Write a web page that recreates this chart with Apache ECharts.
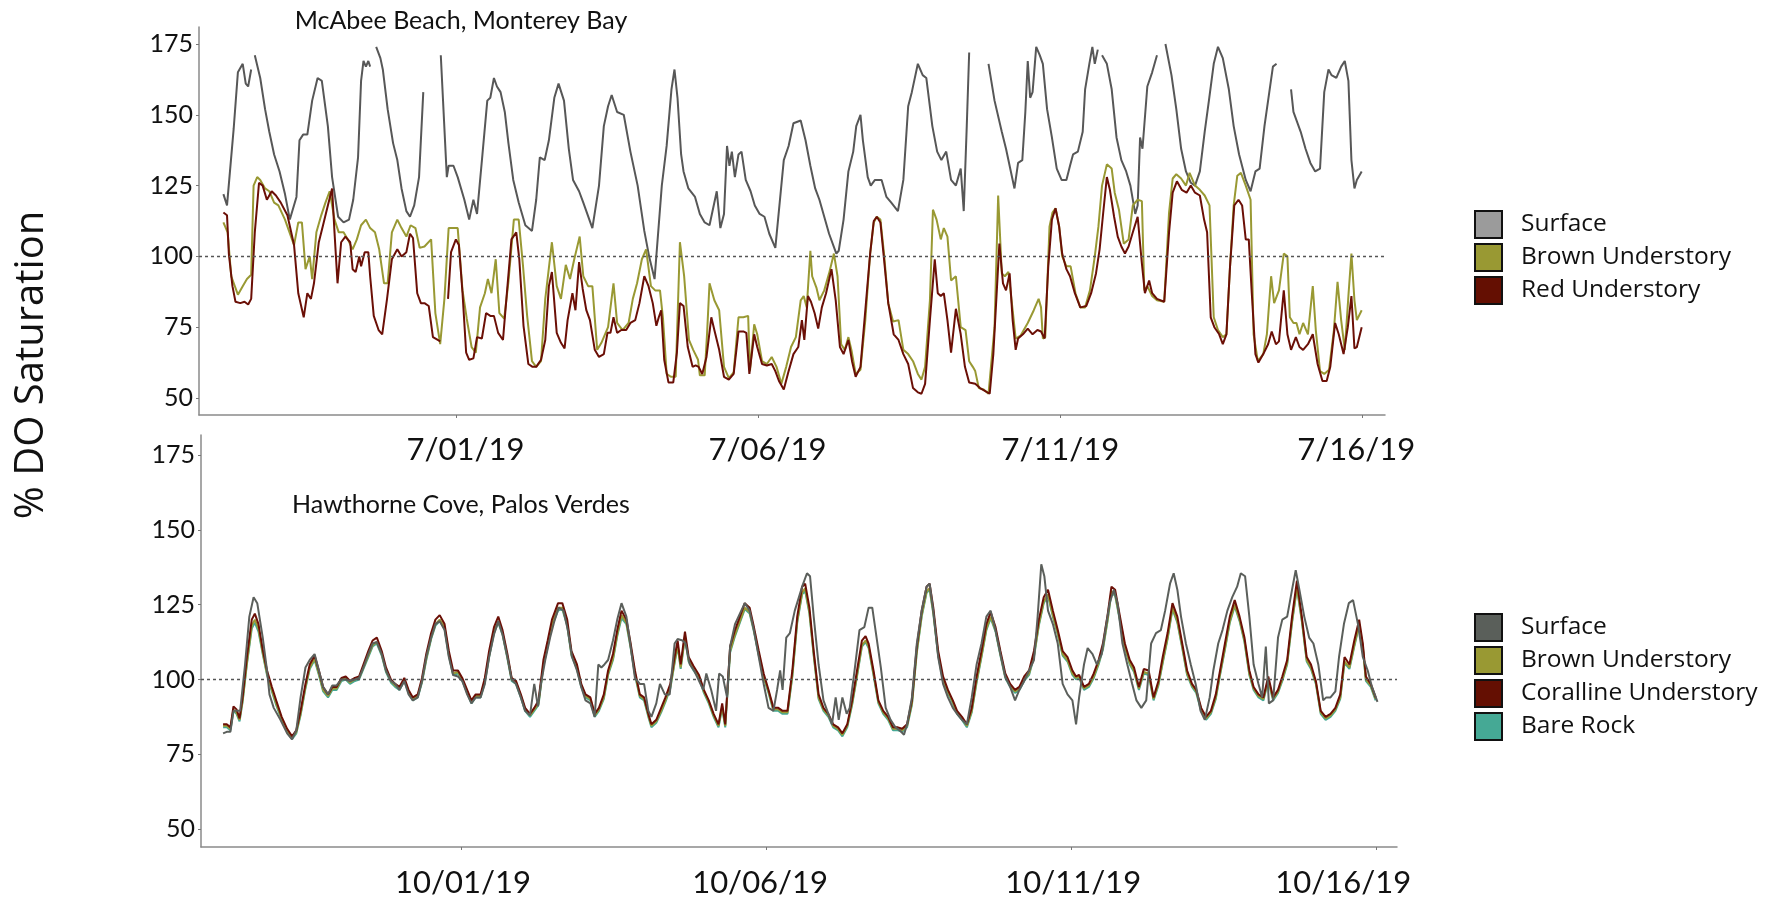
<!DOCTYPE html>
<html><head><meta charset="utf-8">
<script src="https://cdn.jsdelivr.net/npm/echarts@6/dist/echarts.min.js"></script>
<style>html,body{margin:0;padding:0;background:#fff}#c{width:1776px;height:899px}</style>
</head><body><div id="c"></div>
<script>
// ---------- DATA (x = days since 7/01/19 for top, days since 10/01/19 for bottom) ----------
const topTickDays = [0, 5, 10, 15];
const topTickLabels = ['7/01/19', '7/06/19', '7/11/19', '7/16/19'];
const bottomTickDays = [0, 5, 10, 15];
const bottomTickLabels = ['10/01/19', '10/06/19', '10/11/19', '10/16/19'];
const yTickValues = [50, 75, 100, 125, 150, 175];

const topSurface = [[-3.86,122],[-3.80,118],[-3.69,145],[-3.62,165],[-3.54,168],[-3.49,161],[-3.45,160],[-3.40,166],[-3.37,null],[-3.34,171],[-3.25,163],[-3.17,152],[-3.10,144],[-3.02,136],[-2.93,130],[-2.84,122],[-2.76,113],[-2.65,121],[-2.60,141],[-2.54,143],[-2.47,143],[-2.39,155],[-2.30,163],[-2.23,162],[-2.13,146],[-2.06,128],[-1.96,114],[-1.87,112],[-1.78,113],[-1.71,120],[-1.63,135],[-1.58,162],[-1.54,169],[-1.50,167],[-1.46,169],[-1.43,167],[-1.38,null],[-1.33,174],[-1.26,170],[-1.22,166],[-1.14,152],[-1.05,140],[-0.98,134],[-0.91,124],[-0.83,116],[-0.77,114],[-0.70,118],[-0.62,128],[-0.55,158],[-0.40,null],[-0.26,171],[-0.16,128],[-0.13,132],[-0.05,132],[0.02,128],[0.13,120],[0.21,113],[0.28,120],[0.34,115],[0.43,136],[0.51,155],[0.56,156],[0.62,163],[0.67,160],[0.73,158],[0.80,151],[0.86,140],[0.94,127],[1.03,119],[1.14,111],[1.25,109],[1.32,120],[1.38,135],[1.46,134],[1.53,141],[1.62,156],[1.69,161],[1.78,155],[1.86,138],[1.93,127],[2.03,123],[2.10,119],[2.25,110],[2.36,125],[2.44,146],[2.51,153],[2.57,157],[2.66,151],[2.77,150],[2.88,137],[3.00,125],[3.11,109],[3.19,100],[3.28,92],[3.40,125],[3.48,139],[3.56,159],[3.61,166],[3.66,156],[3.72,136],[3.76,130],[3.84,124],[3.95,121],[4.03,115],[4.11,112],[4.19,111],[4.31,123],[4.37,110],[4.43,115],[4.48,139],[4.52,132],[4.56,137],[4.61,128],[4.67,136],[4.72,137],[4.79,127],[4.87,123],[4.94,118],[5.02,115],[5.10,114],[5.18,108],[5.28,103],[5.42,134],[5.50,139],[5.58,147],[5.70,148],[5.78,141],[5.86,132],[5.94,124],[6.01,120],[6.09,114],[6.17,108],[6.29,101],[6.33,102],[6.41,113],[6.49,130],[6.57,137],[6.62,146],[6.69,150],[6.73,141],[6.81,128],[6.86,125],[6.93,127],[7.04,127],[7.12,121],[7.20,119],[7.31,116],[7.40,127],[7.48,153],[7.54,158],[7.64,168],[7.72,164],[7.78,163],[7.88,146],[7.96,137],[8.03,134],[8.11,137],[8.19,127],[8.27,125],[8.35,131],[8.40,116],[8.45,146],[8.49,172],[8.65,null],[8.81,168],[8.91,155],[9.03,144],[9.10,138],[9.18,130],[9.24,124],[9.30,133],[9.37,134],[9.42,151],[9.46,169],[9.50,156],[9.54,158],[9.60,174],[9.66,171],[9.71,168],[9.78,152],[9.86,142],[9.94,131],[10.02,127],[10.10,127],[10.16,132],[10.21,136],[10.29,137],[10.37,144],[10.41,159],[10.48,168],[10.53,174],[10.57,168],[10.62,173],[10.65,null],[10.69,171],[10.77,168],[10.85,159],[10.93,142],[11.01,134],[11.09,130],[11.16,125],[11.24,115],[11.28,118],[11.32,142],[11.36,138],[11.44,160],[11.52,165],[11.60,171],[11.67,null],[11.74,175],[11.84,164],[11.92,152],[12.00,138],[12.08,130],[12.16,126],[12.23,125],[12.31,130],[12.39,144],[12.46,155],[12.54,168],[12.61,174],[12.69,170],[12.79,159],[12.87,146],[12.96,136],[13.07,127],[13.15,123],[13.23,130],[13.30,131],[13.38,146],[13.46,158],[13.52,167],[13.58,168],[13.70,null],[13.82,159],[13.86,151],[13.98,144],[14.06,138],[14.14,133],[14.22,130],[14.30,131],[14.37,158],[14.44,166],[14.49,164],[14.57,163],[14.65,167],[14.71,169],[14.77,162],[14.82,134],[14.87,124],[14.91,127],[14.99,130]];

const topBrown = [[-3.86,112],[-3.79,108.5],[-3.73,93],[-3.62,86.5],[-3.54,89.5],[-3.47,92],[-3.40,93.5],[-3.36,125],[-3.30,128],[-3.25,127],[-3.17,124],[-3.10,123],[-3.02,119],[-2.95,118],[-2.84,113],[-2.69,104],[-2.62,112],[-2.56,112],[-2.50,95.5],[-2.43,100],[-2.39,92],[-2.32,108.5],[-2.24,114.5],[-2.17,119],[-2.10,123],[-2.02,113],[-1.95,108.5],[-1.87,108.5],[-1.80,106],[-1.72,102.5],[-1.65,106],[-1.58,111],[-1.50,113],[-1.43,110],[-1.35,108.5],[-1.28,102.5],[-1.20,90.5],[-1.14,90.5],[-1.07,108.5],[-0.98,113],[-0.91,110],[-0.83,107],[-0.76,111],[-0.68,110],[-0.61,103],[-0.53,103.5],[-0.42,106],[-0.35,80],[-0.27,69],[-0.20,85],[-0.13,110],[-0.05,110],[0.02,110],[0.10,88],[0.17,78],[0.25,68],[0.32,66],[0.39,82],[0.47,87],[0.52,92],[0.58,87],[0.65,99],[0.71,80],[0.79,78],[0.86,91],[0.95,113],[1.03,113],[1.10,97],[1.17,79],[1.25,63],[1.32,61],[1.40,63],[1.47,85],[1.58,105],[1.66,89.5],[1.73,85],[1.81,97],[1.88,92],[1.95,99],[2.04,107],[2.10,93],[2.18,89.5],[2.25,89.5],[2.33,67],[2.40,69.5],[2.51,75],[2.60,90.5],[2.66,76.5],[2.75,74],[2.85,76.5],[2.92,85],[2.99,90.5],[3.07,99],[3.14,102.5],[3.22,89.5],[3.29,88],[3.37,88],[3.42,78],[3.48,58.5],[3.55,57.5],[3.63,57.5],[3.70,105],[3.77,93],[3.85,70.5],[3.92,67],[4.00,63.5],[4.03,58],[4.11,58],[4.15,73],[4.19,90.5],[4.27,84.5],[4.35,81],[4.43,61],[4.51,57],[4.59,59],[4.67,78.5],[4.75,78.5],[4.83,79],[4.86,59.5],[4.93,76],[4.98,72.5],[5.06,63],[5.14,62],[5.22,64.5],[5.30,61],[5.38,55],[5.46,61],[5.54,68],[5.62,71.5],[5.70,84.5],[5.75,86],[5.80,82],[5.86,102],[5.89,93],[5.96,89],[6.01,84.5],[6.09,88],[6.17,94],[6.25,101],[6.31,93],[6.37,69],[6.43,67],[6.49,71.5],[6.54,67],[6.61,58.5],[6.69,60],[6.77,77.5],[6.85,101],[6.91,112],[6.96,114],[7.02,113],[7.08,101],[7.15,83.5],[7.23,77],[7.32,77.5],[7.40,67],[7.48,65.5],[7.56,63],[7.64,58.5],[7.70,56.5],[7.76,61],[7.84,84.5],[7.89,116.5],[7.95,113],[8.02,106],[8.07,110],[8.13,107],[8.19,91.5],[8.27,93],[8.35,75],[8.43,74],[8.49,63],[8.55,61],[8.59,59.5],[8.65,53.5],[8.73,53],[8.81,51.5],[8.84,52],[8.91,75],[8.97,121.5],[9.03,94],[9.08,93],[9.14,94.5],[9.21,81],[9.26,71],[9.34,72],[9.46,76.5],[9.56,81],[9.64,85],[9.68,82],[9.71,71],[9.75,71.5],[9.82,110.5],[9.87,115.5],[9.92,117],[9.98,110.5],[10.03,100],[10.10,96.5],[10.17,96.5],[10.25,87],[10.33,82],[10.41,82],[10.49,88],[10.57,100],[10.63,110.5],[10.69,125],[10.77,132.5],[10.85,131],[10.90,122.5],[10.97,116.5],[11.05,104.5],[11.13,106],[11.20,118],[11.28,120],[11.35,119.5],[11.39,88],[11.44,89.5],[11.52,86],[11.60,84.5],[11.72,84],[11.80,115.5],[11.86,127.5],[11.92,129],[12.00,127.5],[12.08,125],[12.14,129.5],[12.23,125],[12.31,123.5],[12.39,121.5],[12.47,118],[12.54,78.5],[12.61,74],[12.69,71.5],[12.75,72.5],[12.81,96.5],[12.87,118],[12.93,128.5],[12.99,129.5],[13.07,125],[13.15,120],[13.20,72.5],[13.27,63],[13.36,65.5],[13.42,72.5],[13.49,93],[13.54,83.5],[13.62,88],[13.70,101],[13.76,100],[13.80,78.5],[13.86,76.5],[13.91,76.5],[13.96,72.5],[14.02,76.5],[14.10,72.5],[14.18,89.5],[14.23,74],[14.30,59.5],[14.37,58.5],[14.45,60],[14.53,74],[14.59,91],[14.65,77.5],[14.71,67],[14.77,86],[14.82,101],[14.87,84.5],[14.91,77.5],[14.99,81]];

const topRed = [[-3.86,115.5],[-3.80,114.5],[-3.77,101],[-3.71,89.5],[-3.66,84],[-3.58,83.5],[-3.51,84],[-3.45,83],[-3.40,85],[-3.34,108.5],[-3.27,126],[-3.21,125],[-3.14,120],[-3.06,123],[-2.99,121.5],[-2.91,119],[-2.80,114.5],[-2.69,104],[-2.62,87],[-2.53,78.5],[-2.47,87],[-2.41,85],[-2.36,90.5],[-2.28,105],[-2.21,111],[-2.13,118],[-2.06,124],[-2.02,108.5],[-1.97,90.5],[-1.91,105],[-1.84,107],[-1.76,105],[-1.72,95.5],[-1.67,94.5],[-1.61,100],[-1.58,96.5],[-1.52,101.5],[-1.46,101.5],[-1.43,93],[-1.37,79],[-1.29,74],[-1.23,72.5],[-1.15,85],[-1.07,99],[-0.98,102.5],[-0.91,100],[-0.83,101.5],[-0.77,108],[-0.72,106.5],[-0.65,87],[-0.59,83.5],[-0.53,83.5],[-0.46,82.5],[-0.39,71.5],[-0.31,70.5],[-0.27,70],[-0.20,null],[-0.14,85],[-0.09,101.5],[-0.01,106],[0.04,104],[0.10,87],[0.16,66],[0.21,63.5],[0.28,64],[0.34,71.5],[0.42,71],[0.49,80],[0.56,79],[0.62,79],[0.69,73],[0.77,70.5],[0.84,88.5],[0.91,106],[0.99,108.5],[1.04,99],[1.11,75.5],[1.19,62],[1.26,61],[1.32,61],[1.40,63.5],[1.47,70.5],[1.53,89.5],[1.58,94.5],[1.66,73],[1.73,69.5],[1.79,67.5],[1.84,77.5],[1.92,87],[1.97,81],[2.03,98],[2.09,88.5],[2.15,81],[2.21,77.5],[2.29,67],[2.36,64.5],[2.44,65.5],[2.50,73],[2.55,73],[2.60,78.5],[2.66,73],[2.73,74],[2.81,74],[2.88,76.5],[2.96,77.5],[3.03,83.5],[3.11,93],[3.18,89.5],[3.25,83.5],[3.31,75.5],[3.35,78.5],[3.39,81],[3.44,63.5],[3.51,55.5],[3.59,55.5],[3.65,66],[3.70,83.5],[3.76,82.5],[3.83,68],[3.91,61],[3.96,61.5],[4.01,61],[4.07,58.5],[4.14,64.5],[4.22,78.5],[4.27,74],[4.35,67],[4.43,57.5],[4.51,56.5],[4.59,58.5],[4.67,73.5],[4.75,73.5],[4.80,73],[4.85,58.5],[4.93,72.5],[4.98,68],[5.06,62],[5.14,61.5],[5.22,62],[5.28,59.5],[5.34,56],[5.42,53],[5.50,59.5],[5.58,65.5],[5.66,68],[5.72,77.5],[5.76,70.5],[5.82,86],[5.87,84],[5.93,80],[5.99,74.5],[6.05,82],[6.12,87],[6.21,95.5],[6.28,84.5],[6.35,68],[6.41,65.5],[6.49,70.5],[6.55,63],[6.61,57.5],[6.69,61],[6.77,81],[6.85,101],[6.91,112.5],[6.96,114],[7.02,112],[7.08,99],[7.15,83.5],[7.24,72.5],[7.32,70.5],[7.40,65.5],[7.48,62],[7.56,53.5],[7.64,52],[7.70,51.5],[7.76,55],[7.84,77.5],[7.92,99],[7.97,87],[8.02,86],[8.07,87],[8.13,77.5],[8.19,66],[8.27,81.5],[8.35,72.5],[8.42,61],[8.49,55.5],[8.59,55],[8.67,53.5],[8.75,52.5],[8.83,51.5],[8.89,65.5],[8.99,104.5],[9.05,90.5],[9.10,88],[9.16,94],[9.21,77.5],[9.26,67],[9.30,71],[9.38,72.5],[9.46,74.5],[9.54,72.5],[9.62,74],[9.68,73.5],[9.74,71],[9.80,96.5],[9.86,113],[9.92,117],[9.98,110.5],[10.03,101],[10.10,95.5],[10.16,93],[10.24,87],[10.33,82],[10.43,82.5],[10.51,87],[10.59,94],[10.65,102.5],[10.71,115.5],[10.77,128],[10.82,123.5],[10.89,114],[10.95,107],[11.01,103.5],[11.07,101],[11.13,103.5],[11.20,108.5],[11.28,114],[11.35,97.5],[11.40,87],[11.47,91.5],[11.52,87],[11.60,85],[11.72,84],[11.80,108.5],[11.86,122.5],[11.93,126.5],[12.01,123.5],[12.09,122.5],[12.16,125],[12.23,122.5],[12.31,121.5],[12.38,113],[12.43,108.5],[12.49,78.5],[12.55,75],[12.63,72.5],[12.69,69],[12.75,72.5],[12.81,96.5],[12.88,118],[12.95,120],[13.01,118],[13.07,106],[13.12,106],[13.17,87],[13.23,65.5],[13.28,62.5],[13.36,65.5],[13.44,69],[13.50,73.5],[13.57,69],[13.62,70],[13.70,88],[13.76,72.5],[13.82,67],[13.90,71.5],[13.96,68],[14.02,67],[14.10,69],[14.18,72.5],[14.26,62],[14.34,56],[14.41,56],[14.47,61],[14.55,76.5],[14.61,72.5],[14.69,65.5],[14.76,75],[14.82,86],[14.87,67.5],[14.91,68],[14.99,75]];

const bottomSurface = [[-3.90,82],[-3.84,82.5],[-3.78,82.5],[-3.73,89.5],[-3.62,89.5],[-3.54,105],[-3.47,121],[-3.40,127.5],[-3.34,125.5],[-3.25,114],[-3.18,103],[-3.14,95],[-3.07,90.5],[-2.96,86.5],[-2.85,82],[-2.77,80],[-2.70,83],[-2.63,94],[-2.55,104],[-2.48,106.5],[-2.40,108.5],[-2.33,103],[-2.26,97.5],[-2.18,95],[-2.11,98],[-2.04,98],[-1.96,100],[-1.89,100],[-1.82,99.5],[-1.74,100],[-1.67,100.5],[-1.60,104],[-1.52,108.5],[-1.45,112],[-1.38,112.5],[-1.30,108.5],[-1.23,103],[-1.15,99.5],[-1.08,98.5],[-1.01,96.5],[-0.93,99.5],[-0.86,95],[-0.79,93],[-0.71,94],[-0.64,99.5],[-0.57,107.5],[-0.49,114],[-0.42,118.5],[-0.35,119.5],[-0.27,116.5],[-0.20,107.5],[-0.13,101.5],[-0.05,101],[0.02,99.5],[0.10,95],[0.17,92],[0.24,94],[0.32,94],[0.39,98.5],[0.46,107.5],[0.54,115],[0.61,119.5],[0.68,115],[0.76,107.5],[0.83,100],[0.90,98.5],[0.98,94],[1.05,89.5],[1.13,88],[1.20,98.5],[1.26,91],[1.31,98.5],[1.38,106.5],[1.46,114],[1.53,119.5],[1.60,124],[1.68,123],[1.75,116.5],[1.82,107.5],[1.90,103],[1.97,97.5],[2.04,93],[2.12,92],[2.19,87.5],[2.25,105],[2.30,104],[2.35,105],[2.41,106.5],[2.49,113],[2.56,120],[2.63,125.5],[2.71,121],[2.78,111],[2.85,100.5],[2.93,98.5],[3.00,98.5],[3.07,89.5],[3.12,87.5],[3.20,92],[3.26,98.5],[3.34,95],[3.42,95],[3.50,112],[3.55,113.5],[3.63,113],[3.68,112],[3.75,105],[3.82,103],[3.90,99.5],[3.97,96.5],[4.02,102],[4.10,96.5],[4.18,89.5],[4.23,102],[4.29,101],[4.36,94],[4.41,111],[4.49,118.5],[4.57,122],[4.65,125.5],[4.73,123],[4.80,116.5],[4.88,107.5],[4.96,98.5],[5.04,90.5],[5.12,89.5],[5.18,96.5],[5.23,103],[5.27,96.5],[5.33,114],[5.39,115.5],[5.47,123],[5.59,131],[5.67,135.5],[5.72,134.5],[5.78,121],[5.86,105],[5.94,93],[6.02,88.5],[6.08,85],[6.14,94],[6.19,86.5],[6.25,94],[6.32,88.5],[6.37,90.5],[6.45,103],[6.53,116.5],[6.61,117.5],[6.68,124],[6.74,124],[6.80,115.5],[6.88,104],[6.96,90.5],[7.04,86.5],[7.12,84],[7.19,83],[7.26,81.5],[7.31,85],[7.39,94],[7.47,112],[7.55,123],[7.63,131],[7.68,132],[7.74,123],[7.82,107.5],[7.90,98.5],[7.98,94],[8.06,90.5],[8.13,88.5],[8.21,86.5],[8.29,85],[8.37,94],[8.45,105],[8.53,112],[8.61,121],[8.68,123],[8.76,116.5],[8.84,108.5],[8.92,101],[9.00,97.5],[9.08,93],[9.15,96.5],[9.23,99.5],[9.31,103],[9.39,106.5],[9.45,121],[9.51,138.5],[9.56,134.5],[9.62,123],[9.70,118.5],[9.78,112],[9.86,98.5],[9.94,95],[10.02,93],[10.08,85],[10.13,94],[10.21,105],[10.27,110.5],[10.35,108.5],[10.42,105],[10.50,108.5],[10.56,116.5],[10.63,125.5],[10.70,130],[10.76,125.5],[10.84,112],[10.92,105],[11.00,98.5],[11.07,93],[11.15,90.5],[11.23,93],[11.31,112],[11.39,115.5],[11.47,116.5],[11.54,123],[11.62,132],[11.68,135.5],[11.74,130],[11.80,121],[11.88,112],[11.96,105],[12.04,98.5],[12.12,89.5],[12.19,86.5],[12.27,94],[12.33,103],[12.41,112],[12.48,116.5],[12.56,123],[12.64,127.5],[12.72,131],[12.78,135.5],[12.85,134.5],[12.92,121],[12.99,105],[13.07,98.5],[13.13,94],[13.19,111],[13.24,92],[13.31,93],[13.39,114],[13.46,120],[13.54,121],[13.62,130],[13.68,136.5],[13.74,130],[13.82,121],[13.90,114],[13.97,112],[14.05,105],[14.13,93],[14.18,94],[14.25,94],[14.33,96],[14.39,107.5],[14.47,118.5],[14.55,125.5],[14.62,126.5],[14.70,118.5],[14.78,107.5],[14.86,103],[14.93,97.5],[15.02,92.5]];

const bottomTimes = [-3.90,-3.84,-3.78,-3.73,-3.68,-3.63,-3.58,-3.51,-3.43,-3.38,
-3.32,-3.25,-3.18,-3.10,-3.03,-2.94,-2.85,-2.77,-2.70,-2.63,
-2.55,-2.48,-2.40,-2.33,-2.26,-2.18,-2.11,-2.04,-1.96,-1.89,
-1.82,-1.74,-1.67,-1.60,-1.52,-1.45,-1.38,-1.30,-1.23,-1.15,
-1.08,-1.01,-0.93,-0.86,-0.79,-0.71,-0.64,-0.57,-0.49,-0.42,
-0.35,-0.27,-0.20,-0.13,-0.05,0.02,0.10,0.17,0.24,0.32,
0.39,0.46,0.54,0.61,0.68,0.76,0.83,0.90,0.98,1.05,
1.13,1.20,1.27,1.35,1.42,1.49,1.59,1.66,1.74,1.81,
1.90,1.97,2.04,2.12,2.19,2.26,2.34,2.41,2.49,2.56,
2.63,2.71,2.78,2.85,2.93,3.00,3.07,
3.12,3.20,3.28,3.35,3.43,3.50,3.55,3.60,3.67,3.73,
3.81,3.90,3.98,4.06,4.14,4.22,4.28,4.33,4.41,4.49,
4.57,4.65,4.73,4.80,4.88,4.96,5.04,5.12,5.20,5.27,
5.35,5.43,5.51,5.59,5.64,5.71,5.78,5.86,5.94,6.02,
6.10,6.18,6.25,6.33,6.41,6.49,6.57,6.63,6.68,6.76,
6.84,6.92,7.00,7.08,7.16,7.23,7.31,7.39,7.47,7.55,
7.63,7.68,7.74,7.82,7.90,7.98,8.06,8.13,8.21,8.29,
8.37,8.45,8.53,8.61,8.68,8.76,8.84,8.92,9.00,9.08,
9.15,9.23,9.31,9.39,9.47,9.55,9.62,9.70,9.78,9.86,
9.94,10.02,10.08,10.13,10.21,10.29,10.37,10.45,10.52,10.60,
10.66,10.72,10.80,10.88,10.96,11.03,11.11,11.19,11.27,11.35,
11.43,11.50,11.58,11.66,11.74,11.82,11.90,11.98,12.05,12.13,
12.21,12.29,12.37,12.44,12.52,12.60,12.68,12.76,12.84,12.92,
12.99,13.07,13.15,13.23,13.31,13.39,13.46,13.54,13.62,13.70,
13.78,13.86,13.93,14.01,14.09,14.17,14.25,14.33,14.41,14.48,
14.56,14.64,14.72,14.78,14.83,14.91,14.99];

const bottomCoralline = [85,85,84,91,90,87,94,107.5,120,122,
118.5,110,103,97.5,93,87.5,83.5,81,83,89.5,
98.5,105,108,103,97.5,95,97.5,97.5,100.5,101,
99.5,100.5,101,105,109.5,113,114,109.5,104,100,
98.5,97.5,100.5,96.5,94,95,100.5,108.5,115.5,120,
121.5,118.5,109.5,103,103,100.5,96.5,93,95,95,
100.5,109.5,117.5,121,116.5,108.5,100.5,99.5,95,90.5,
88.5,90.5,93,106.5,113,120,125.5,125.5,120,109.5,
105,98.5,95,94,88.5,90.5,95,103,108.5,116.5,
123,120,112,103,95,94,88.5,
85,86.5,90.5,94,98.5,107.5,113,105,116,107.5,
104.5,101.5,96.5,93,88.5,85,92,85,111,116.5,
121,125.5,124,117.5,109.5,102,96.5,90.5,90.5,89.5,
89.5,103,121,131,132,124,109.5,95,90.5,88.5,
85,84,82,85,93,103,113,114.5,112,103,
93,89.5,87.5,84,84,83.5,85,93,111,123,
131,132,124,109.5,101,96.5,93,89.5,87.5,85,
90.5,101,109.5,118.5,122.5,117.5,109.5,102,98.5,96.5,
97.5,101,103,109.5,120,127.5,130,123,116.5,109.5,
107.5,103,101,101.5,97.5,98.5,102,106.5,112,122,
131,130,121,112,106.5,104,97.5,103.5,103,94,
99.5,107.5,115.5,125.5,121,112,103,98.5,96.5,90.5,
87.5,89.5,95,103,112,121,126.5,121,114,103,
97.5,95,94,101,94,96.5,101,106.5,121,133,
121,107.5,105,99.5,89.5,87.5,88.5,90.5,95,107.5,
105,113,120,112,101,98.5,94];

const bottomBrown = [84.5,84.5,83.5,90,89,86.5,93,105.5,118,120,
117,109,102,96.5,92,87,83,80.5,82.5,88.5,
97.5,104,107,102,96.5,94.5,97,97,100,100.5,
99,100,100.5,104,108,111.5,112.5,108.5,103,99.5,
98,97,100,96,93.5,94.5,99.5,107,114,118.5,
120,117.5,108.5,102,102.5,100,96,92.5,94.5,94.5,
99.5,108,116,119.5,115.5,107.5,100,99,94.5,90,
88,90,92,105,111.5,118.5,124,124,118.5,108.5,
104,98,94.5,93.5,88,90,94,102,107,115,
121.5,119,111,102,94.5,93.5,88,
84.5,86,89.5,93,97.5,106,111.5,104,114.5,106.5,
103.5,101,96,92.5,88,84.5,91,84.5,109.5,115,
119.5,124,122.5,116.5,108.5,101,96,90,90,89,
89,101.5,119.5,129,130.5,122.5,108.5,94,90,88,
84.5,83.5,81.5,84.5,92,101.5,111.5,113,111,102,
92.5,89,87,83.5,83.5,83,84.5,92,109.5,121.5,
129.5,130.5,122.5,108.5,100,96,92.5,89,87,84.5,
89.5,99.5,108,117,121,116.5,108.5,101,98,96,
97,100,102,108,118.5,126,128.5,121.5,115.5,108.5,
106.5,102,100.5,101,97,98,101,105.5,110.5,120.5,
129.5,128.5,120,111,105.5,103,97,102.5,102,93.5,
98.5,106,114,124,119.5,111,102,98,96,90,
87,89,94,102,110.5,119.5,125,120,113,102,
97,94.5,93.5,100,93.5,96,100,105.5,119.5,131,
120,106.5,104,99,89,87,88,90,94,106,
104,111.5,118.5,111,100,98,93.5];

const bottomBareRock = [84,84,83,89.5,88.5,86,92.5,105,117,119,
116,108.5,101.5,96,91.5,86.5,82.5,80,82,88,
97,103.5,106.5,101.5,96,94,96.5,96.5,99.5,100,
98.5,99.5,100,103.5,107.5,111,112,108,102.5,99,
97.5,96.5,99.5,95.5,93,94,99,106.5,113.5,118,
119.5,117,108,101.5,102,99.5,95.5,92,94,94,
99,107.5,115.5,119,115,107,99.5,98.5,94,89.5,
87.5,89.5,91.5,104.5,111,118,123,123.5,118,108,
103.5,97.5,94,93,87.5,89.5,93.5,101.5,106.5,114.5,
120.5,118.5,110.5,101.5,94,93,87.5,
84,85.5,89,92.5,97,105.5,111,103.5,114,106,
103,100.5,95.5,92,87.5,84,90.5,84,109,114.5,
119,123.5,122,116,108,100.5,95.5,89.5,89.5,88.5,
88.5,101,119,128.5,129.5,122,108,93.5,89.5,87.5,
84,83,81,84,91.5,101,111,112.5,110.5,101.5,
92,88.5,86.5,83,83,82.5,84,91.5,109,121,
129,130,122,108,99.5,95.5,92,88.5,86.5,84,
89,99,107.5,116.5,120.5,116,108,100.5,97.5,95.5,
96.5,99.5,101.5,107.5,118,125.5,128,121,115,108,
106,101.5,100,100.5,96.5,97.5,100.5,105,110,120,
129,128,119.5,110.5,105,102.5,96.5,102,101.5,93,
98,105.5,113.5,123.5,119,110.5,101.5,97.5,95.5,89.5,
86.5,88.5,93.5,101.5,110,119,124.5,119.5,112.5,101.5,
96.5,94,93,99.5,93,95.5,99.5,105,119,130.5,
119.5,106,103.5,98.5,88.5,86.5,87.5,89.5,93.5,105.5,
103.5,111,118,110.5,99.5,97.5,93];

// ---------- CHART ----------
const C = {
  surfTopLine: '#575757', surfTopKey: '#9b9b9b',
  surfBotLine: '#5b5f5b', surfBotKey: '#5a5f5a',
  brown: '#999933', red: '#6b0f06', redKey: '#640f02', teal: '#45a995'
};
const tickFont = 'Lato, "Open Sans", sans-serif';
const keyFont = '"Open Sans", sans-serif';

const pairs = (t, v) => t.map((x, i) => [x, v[i]]);

function lineSeries(name, data, color, xi, extra) {
  return Object.assign({
    name, type: 'line', xAxisIndex: xi, yAxisIndex: xi, data,
    showSymbol: false, symbol: 'none', connectNulls: false,
    lineStyle: { color, width: 2 }, itemStyle: { color },
    emphasis: { disabled: true }, animation: false
  }, extra || {});
}
const refLine = {
  silent: true, symbol: 'none', label: { show: false },
  lineStyle: { type: [3, 3], color: '#555', width: 1.3 },
  data: [{ yAxis: 100 }], animation: false
};

// per-label horizontal nudges (px, + = right) to match the hand-placed date labels
function xAxisDef(gi, min, max, days, labels, margin, nudges) {
  const rich = {};
  nudges.forEach((n, i) => {
    rich['s' + i] = { fontFamily: tickFont, fontSize: 31, color: '#111',
      padding: [0, n < 0 ? -2 * n : 0, 0, n > 0 ? 2 * n : 0] };
  });
  return {
    type: 'value', gridIndex: gi, min, max,
    axisLine: { show: true, onZero: false, lineStyle: { color: '#8a8a8a', width: 1.5 } },
    axisTick: { show: true, length: 3, customValues: days, lineStyle: { color: '#777' } },
    splitLine: { show: false },
    axisLabel: {
      customValues: days, margin, color: '#111', fontFamily: tickFont, fontSize: 31,
      formatter: v => {
        const i = days.indexOf(v);
        return i >= 0 ? '{s' + i + '|' + labels[i] + '}' : '';
      },
      rich
    }
  };
}
function yAxisDef(gi, min, max) {
  return {
    type: 'value', gridIndex: gi, min, max,
    axisLine: { show: true, onZero: false, lineStyle: { color: '#8a8a8a', width: 1.5 } },
    axisTick: { show: true, length: 3, customValues: yTickValues, lineStyle: { color: '#777' } },
    splitLine: { show: false },
    axisLabel: { customValues: yTickValues, margin: 6, color: '#111', fontFamily: tickFont, fontSize: 25 }
  };
}

const legendBase = {
  orient: 'vertical', left: 1469, icon: 'rect', itemWidth: 27, itemHeight: 27, itemGap: 4,
  selectedMode: false,
  itemStyle: { borderColor: '#111', borderWidth: 2 },
  textStyle: { fontFamily: keyFont, fontSize: 24.5, color: '#111', padding: [0, 0, 0, 14] }
};

const option = {
  backgroundColor: '#fff',
  animation: false,
  title: [
    { text: 'McAbee Beach, Monterey Bay', left: 456, top: 3, textAlign: 'center',
      textStyle: { fontFamily: tickFont, fontSize: 25, fontWeight: 'normal', color: '#111' } },
    { text: 'Hawthorne Cove, Palos Verdes', left: 456, top: 487, textAlign: 'center',
      textStyle: { fontFamily: tickFont, fontSize: 25, fontWeight: 'normal', color: '#111' } }
  ],
  graphic: [{
    type: 'text', x: 32, y: 365, rotation: Math.PI / 2,
    style: { text: '% DO Saturation', fontFamily: keyFont, fontSize: 40, fill: '#111',
      align: 'center', verticalAlign: 'middle' }
  }],
  legend: [
    Object.assign({}, legendBase, { top: 205, data: [
      { name: 'Surface', itemStyle: { color: C.surfTopKey } },
      { name: 'Brown Understory', itemStyle: { color: C.brown } },
      { name: 'Red Understory', itemStyle: { color: C.redKey } }
    ] }),
    Object.assign({}, legendBase, { top: 608, data: [
      { name: 'Surface', itemStyle: { color: C.surfBotKey } },
      { name: 'Brown Understory', itemStyle: { color: C.brown } },
      { name: 'Coralline Understory', itemStyle: { color: C.redKey } },
      { name: 'Bare Rock', itemStyle: { color: C.teal } }
    ] })
  ],
  grid: [
    { left: 199, top: 27, width: 1186, height: 388 },
    { left: 201, top: 435, width: 1196, height: 412 }
  ],
  xAxis: [
    xAxisDef(0, -4.264, 15.376, topTickDays, topTickLabels, 19, [9, 9, 0, -6]),
    xAxisDef(1, -4.262, 15.34, bottomTickDays, bottomTickLabels, 20, [2, -6, 2, -33])
  ],
  yAxis: [ yAxisDef(0, 44, 181), yAxisDef(1, 44, 181.7) ],
  series: [
    lineSeries('Surface', topSurface, C.surfTopLine, 0, { markLine: refLine }),
    lineSeries('Brown Understory', topBrown, C.brown, 0),
    lineSeries('Red Understory', topRed, C.red, 0),
    lineSeries('Bare Rock', pairs(bottomTimes, bottomBareRock), C.teal, 1, { markLine: refLine }),
    lineSeries('Brown Understory', pairs(bottomTimes, bottomBrown), C.brown, 1),
    lineSeries('Coralline Understory', pairs(bottomTimes, bottomCoralline), C.red, 1),
    lineSeries('Surface', bottomSurface, C.surfBotLine, 1)
  ]
};

const chart = echarts.init(document.getElementById('c'), null, { renderer: 'canvas', width: 1776, height: 899 });
chart.setOption(option);
</script></body></html>
